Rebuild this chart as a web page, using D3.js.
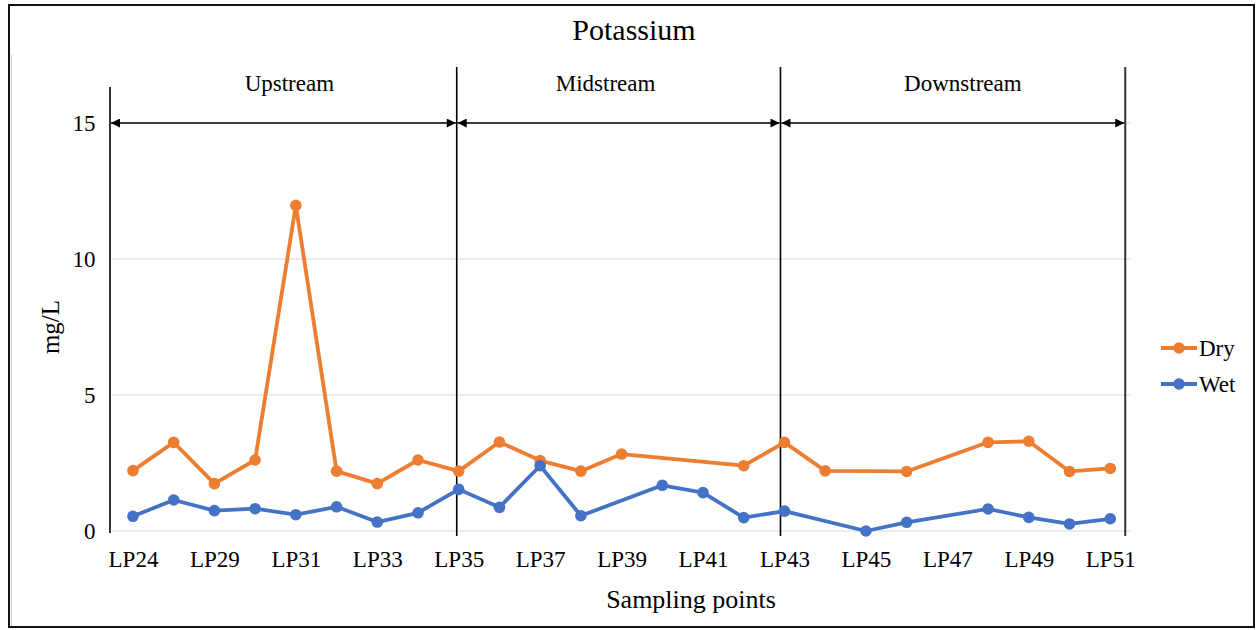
<!DOCTYPE html>
<html>
<head>
<meta charset="utf-8">
<script src="https://cdn.jsdelivr.net/npm/d3@7"></script>
<style>
  html, body { margin: 0; padding: 0; background: #fff; }
  svg { display: block; font-family: "Liberation Serif", "Times New Roman", serif; }
</style>
</head>
<body>
<svg id="chart" width="1257" height="630"></svg>
<script>
// Sampling points along the river (every other label is shown on the axis)
const categories = ["LP24","LP28","LP29","LP30","LP31","LP32","LP33","LP34","LP35","LP36",
  "LP37","LP38","LP39","LP40","LP41","LP42","LP43","LP44","LP45","LP46",
  "LP47","LP48","LP49","LP50","LP51"];

// Potassium concentration, mg/L (null = not sampled)
const dryValues = [2.22,3.26,1.74,2.61,11.97,2.2,1.74,2.61,2.2,3.27,
  2.59,2.2,2.83,null,null,2.4,3.26,2.21,null,2.19,
  null,3.26,3.3,2.19,2.3];
const wetValues = [0.54,1.14,0.75,0.82,0.6,0.89,0.33,0.67,1.53,0.87,
  2.4,0.56,null,1.68,1.41,0.49,0.73,null,0,0.32,
  null,0.81,0.5,0.26,0.45];

const yTicks = [0, 5, 10, 15];

// River reaches, each spanning a range of sampling points
const zoneNames = ["Upstream", "Midstream", "Downstream"];
const zoneStarts = ["LP24", "LP35", "LP43"];
const zoneEnds = ["LP35", "LP43", "LP51"];

const seriesNames = ["Dry", "Wet"];
const seriesColors = ["#ED7D31", "#4472C4"];

const svg = d3.select("#chart");

// plot area
const plot = { left: 112.6, right: 1130.6, top: 123, bottom: 531 };

const x = d3.scalePoint().domain(categories).range([plot.left, plot.right]).padding(0.5);
const y = d3.scaleLinear().domain([0, 15]).range([plot.bottom, plot.top]);

// outer frame
svg.append("rect").attr("x", 9).attr("y", 5).attr("width", 1245).attr("height", 622)
  .attr("fill", "none").attr("stroke", "#111").attr("stroke-width", 2);
svg.append("line").attr("x1", 11.5).attr("x2", 11.5).attr("y1", 55).attr("y2", 626)
  .attr("stroke", "#d0d0d0").attr("stroke-width", 1);

// title
svg.append("text").attr("x", 634).attr("y", 40).attr("text-anchor", "middle")
  .attr("font-size", 30).attr("fill", "#000").text("Potassium");

// gridlines
svg.append("g").selectAll("line").data(yTicks).join("line")
  .attr("x1", plot.left).attr("x2", plot.right)
  .attr("y1", d => y(d)).attr("y2", d => y(d))
  .attr("stroke", "#d9d9d9").attr("stroke-width", 1.2);

// y axis
const yAxis = svg.append("g").attr("transform", `translate(${plot.left},0)`)
  .call(d3.axisLeft(y).tickValues(yTicks).tickSize(0).tickPadding(17).tickFormat(d3.format("d")));
yAxis.select(".domain").remove();
yAxis.selectAll("text").attr("font-size", 23).attr("font-family", "Liberation Serif, serif").attr("fill", "#000");

// x axis
const xAxis = svg.append("g").attr("transform", `translate(0,${plot.bottom})`)
  .call(d3.axisBottom(x).tickSize(0).tickPadding(20)
    .tickFormat((d, i) => (i % 2 === 0 ? d : "")));
xAxis.select(".domain").remove();
xAxis.selectAll("text").attr("font-size", 23).attr("font-family", "Liberation Serif, serif").attr("fill", "#000");

// axis titles
svg.append("text").attr("x", 691).attr("y", 608).attr("text-anchor", "middle")
  .attr("font-size", 26).attr("fill", "#000").text("Sampling points");
svg.append("text").attr("transform", "translate(59,327) rotate(-90)")
  .attr("text-anchor", "middle").attr("font-size", 25).attr("fill", "#000").text("mg/L");

// reach boundaries
const boundaryOffsets = { start: -2.6, mid: -2, end: 15 };
const zoneX = zoneNames.map((n, i) => {
  const x0 = i === 0 ? plot.left + boundaryOffsets.start : x(zoneStarts[i]) + (i === 1 ? -2 : -4);
  const x1 = i === zoneNames.length - 1 ? x(zoneEnds[i]) + boundaryOffsets.end
    : x(zoneEnds[i]) + (i === 0 ? -2 : -4);
  return [x0, x1];
});

const defs = svg.append("defs");
defs.append("marker").attr("id", "arrowEnd").attr("viewBox", "0 0 10 10")
  .attr("refX", 10).attr("refY", 5).attr("markerWidth", 10).attr("markerHeight", 9)
  .attr("markerUnits", "userSpaceOnUse").attr("orient", "auto")
  .append("path").attr("d", "M0,0 L10,5 L0,10 Z").attr("fill", "#000");
defs.append("marker").attr("id", "arrowStart").attr("viewBox", "0 0 10 10")
  .attr("refX", 0).attr("refY", 5).attr("markerWidth", 10).attr("markerHeight", 9)
  .attr("markerUnits", "userSpaceOnUse").attr("orient", "auto")
  .append("path").attr("d", "M10,0 L0,5 L10,10 Z").attr("fill", "#000");

const labelShift = [6, -13, 10];
const zones = svg.append("g");
zoneX.forEach(([x0, x1], i) => {
  zones.append("line").attr("x1", x0 + 1).attr("x2", x1 - 1).attr("y1", y(15)).attr("y2", y(15))
    .attr("stroke", "#000").attr("stroke-width", 1.5)
    .attr("marker-start", "url(#arrowStart)").attr("marker-end", "url(#arrowEnd)");
  zones.append("text").attr("x", (x0 + x1) / 2 + labelShift[i]).attr("y", 91)
    .attr("text-anchor", "middle").attr("font-size", 23).attr("fill", "#000").text(zoneNames[i]);
});
const bxs = [zoneX[0][0], zoneX[1][0], zoneX[2][0], zoneX[2][1]];
zones.selectAll("line.bound").data(bxs).join("line").attr("class", "bound")
  .attr("x1", d => d).attr("x2", d => d)
  .attr("y1", (d, i) => (i === 0 ? 87 : 67)).attr("y2", (d, i) => (i === 0 ? 533 : 536))
  .attr("stroke", (d, i) => (i === 3 ? "#333" : "#000")).attr("stroke-width", (d, i) => (i === 3 ? 2 : 1.6));

// series
const series = [dryValues, wetValues].map((vals, s) => ({
  name: seriesNames[s], color: seriesColors[s],
  points: categories.map((c, i) => ({ c, v: vals[i] })).filter(p => p.v !== null)
}));

const line = d3.line().x(p => x(p.c)).y(p => y(p.v));
const gSeries = svg.append("g");
series.forEach(s => {
  gSeries.append("path").datum(s.points).attr("d", line)
    .attr("fill", "none").attr("stroke", s.color).attr("stroke-width", 3.8)
    .attr("stroke-linejoin", "round").attr("stroke-linecap", "round");
  gSeries.append("g").selectAll("circle").data(s.points).join("circle")
    .attr("cx", p => x(p.c)).attr("cy", p => y(p.v)).attr("r", 5.8).attr("fill", s.color);
});

// legend
const legend = svg.append("g");
series.forEach((s, i) => {
  const ly = 348 + i * 36;
  legend.append("line").attr("x1", 1161).attr("x2", 1197).attr("y1", ly).attr("y2", ly)
    .attr("stroke", s.color).attr("stroke-width", 3.8);
  legend.append("circle").attr("cx", 1179).attr("cy", ly).attr("r", 5.8).attr("fill", s.color);
  legend.append("text").attr("x", 1199).attr("y", ly + 8).attr("font-size", 23)
    .attr("fill", "#000").text(s.name);
});
</script>
</body>
</html>
